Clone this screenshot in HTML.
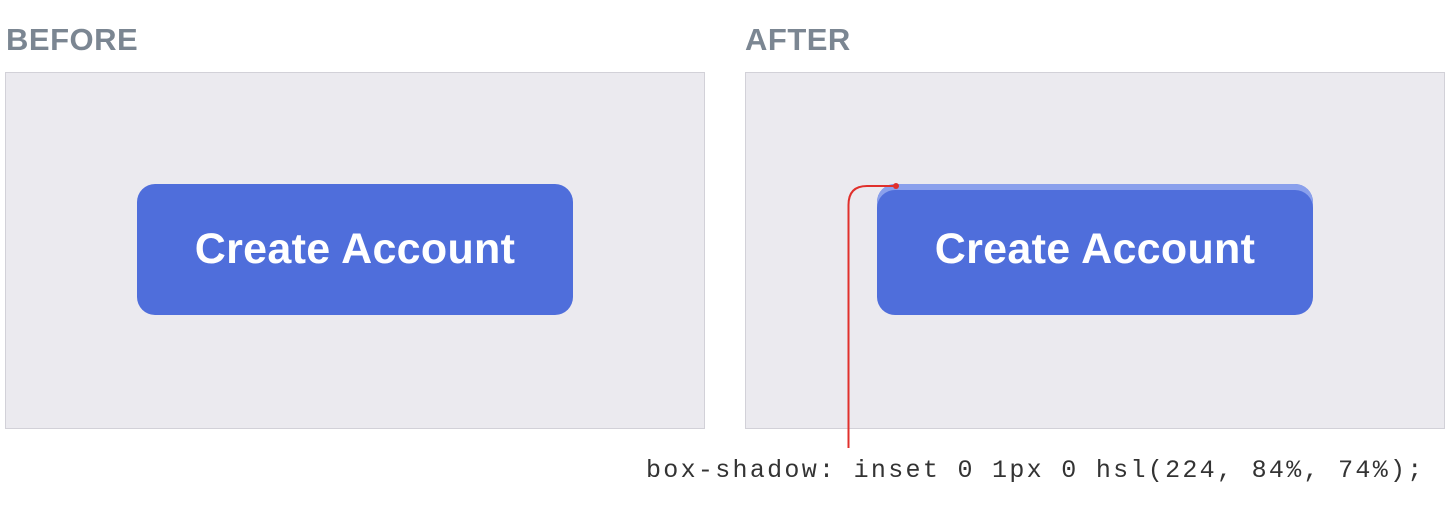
<!DOCTYPE html>
<html><head><style>
body{margin:0;width:1450px;height:512px;background:#fff;position:relative;overflow:hidden;font-family:"Liberation Sans",sans-serif}
.lbl{position:absolute;top:22px;font-size:31px;font-weight:bold;color:#7b8692;letter-spacing:0.5px}
.panel{position:absolute;top:72px;width:698px;height:355px;background:#ebeaef;border:1px solid #d2d1d8}
.btn{position:absolute;top:184px;width:436px;height:131px;border-radius:18px;background:#4f6edb;color:#fff;font-size:43px;font-weight:bold;display:flex;align-items:center;justify-content:center;letter-spacing:0.3px}
.code{position:absolute;left:646px;top:456px;font-family:"Liberation Mono",monospace;font-size:25px;letter-spacing:2.3px;color:#333;white-space:nowrap}
</style></head><body>
<div class="lbl" style="left:6px">BEFORE</div>
<div class="lbl" style="left:745px">AFTER</div>
<div class="panel" style="left:5px"></div>
<div class="panel" style="left:745px"></div>
<div class="btn" style="left:137px">Create Account</div>
<div class="btn" style="left:877px;box-shadow:inset 0 6px 0 #8aa0ec">Create Account</div>
<svg width="1450" height="512" style="position:absolute;left:0;top:0">
<path d="M848.5 448 V205 Q848.5 186 867 186 H896" fill="none" stroke="#e0302c" stroke-width="2"/>
<circle cx="896" cy="186" r="3" fill="#e0302c"/>
</svg>
<div class="code">box-shadow: inset 0 1px 0 hsl(224, 84%, 74%);</div>
</body></html>
